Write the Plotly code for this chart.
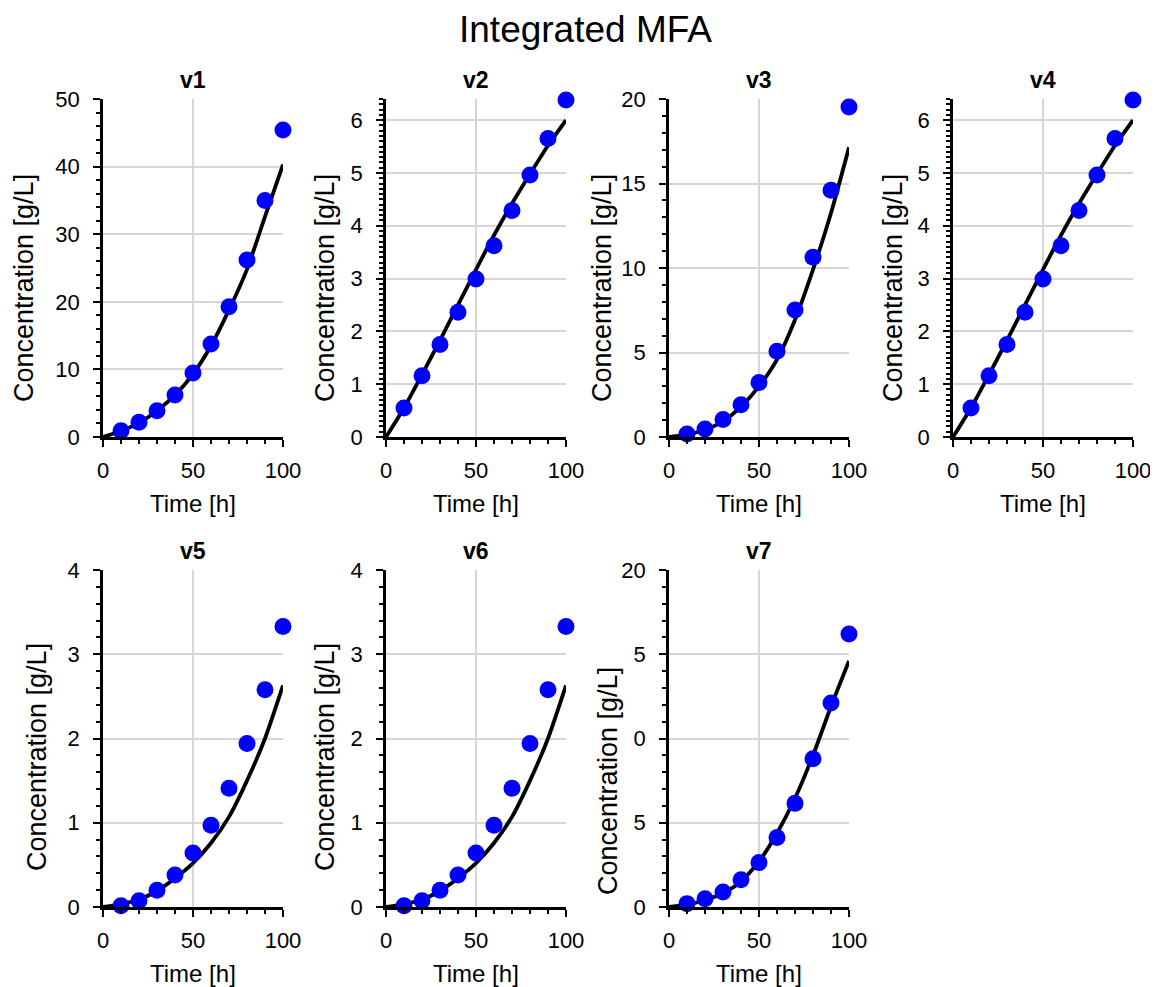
import plotly.graph_objects as go

W, H = 1158, 987
FONT = "Liberation Sans, Arial, Helvetica, sans-serif"
OFF = 8  # page body margin offset

# ---- data ----
names = ["v1", "v2", "v3", "v4", "v5", "v6", "v7"]
time_pts = [10, 20, 30, 40, 50, 60, 70, 80, 90, 100]
time_fit = [0, 10, 20, 30, 40, 50, 60, 70, 80, 90, 100]

meas_v1 = [0.94, 2.17, 3.9, 6.2, 9.47, 13.76, 19.28, 26.2, 35.0, 45.4]
meas_v2 = [0.55, 1.16, 1.75, 2.36, 2.99, 3.62, 4.29, 4.96, 5.65, 6.38]
meas_v3 = [0.18, 0.47, 1.03, 1.91, 3.23, 5.07, 7.51, 10.63, 14.6, 19.53]
meas_v4 = [0.55, 1.16, 1.75, 2.36, 2.99, 3.62, 4.29, 4.96, 5.65, 6.38]
meas_v5 = [0.016, 0.075, 0.2, 0.38, 0.64, 0.97, 1.41, 1.94, 2.58, 3.33]
meas_v6 = [0.016, 0.075, 0.2, 0.38, 0.64, 0.97, 1.41, 1.94, 2.58, 3.33]
meas_v7 = [0.2, 0.49, 0.89, 1.62, 2.64, 4.12, 6.15, 8.8, 12.11, 16.2]

fit_v1 = [0.0, 0.9, 2.1, 3.9, 6.2, 9.3, 13.5, 18.8, 24.8, 32.6, 40.3]
fit_v2 = [0.0, 0.55, 1.18, 1.83, 2.5, 3.17, 3.82, 4.42, 4.98, 5.52, 6.0]
fit_v3 = [0.0, 0.14, 0.43, 0.93, 1.8, 3.0, 4.58, 6.94, 9.9, 13.25, 17.14]
fit_v4 = [0.0, 0.55, 1.18, 1.83, 2.5, 3.17, 3.82, 4.42, 4.98, 5.52, 6.0]
fit_v5 = [0.0, 0.035, 0.09, 0.19, 0.34, 0.52, 0.76, 1.07, 1.5, 2.0, 2.63]
fit_v6 = [0.0, 0.035, 0.09, 0.19, 0.34, 0.52, 0.76, 1.07, 1.5, 2.0, 2.63]
fit_v7 = [0.0, 0.14, 0.4, 0.83, 1.5, 2.7, 4.38, 6.45, 9.0, 11.9, 14.6]

measured = [meas_v1, meas_v2, meas_v3, meas_v4, meas_v5, meas_v6, meas_v7]
fitted = [fit_v1, fit_v2, fit_v3, fit_v4, fit_v5, fit_v6, fit_v7]

y_max = [50, 6.4, 20, 6.4, 4, 4, 20]
y_minor = [2, 0.1, 1, 0.1, 0.2, 0.2, 1]
y_tickvals = [
    [0, 10, 20, 30, 40, 50],
    [0, 1, 2, 3, 4, 5, 6],
    [0, 5, 10, 15, 20],
    [0, 1, 2, 3, 4, 5, 6],
    [0, 1, 2, 3, 4],
    [0, 1, 2, 3, 4],
    [0, 5, 10, 15, 20],
]
y_ticktext = [
    ["0", "10", "20", "30", "40", "50"],
    ["0", "1", "2", "3", "4", "5", "6"],
    ["0", "5", "10", "15", "20"],
    ["0", "1", "2", "3", "4", "5", "6"],
    ["0", "1", "2", "3", "4"],
    ["0", "1", "2", "3", "4"],
    ["0", "5", "0", "5", "20"],
]
x_tickvals = [0, 50, 100]
x_ticktext = ["0", "50", "100"]

title_text = "Integrated MFA"
x_title = "Time [h]"
y_title = "Concentration [g/L]"

# ---- layout geometry (target pixels) ----
col_left = [103, 386, 669, 953, 103, 386, 669]
row_top = [99, 99, 99, 99, 570, 570, 570]
row_bot = [437, 437, 437, 437, 907, 907, 907]
plot_w = 180
ylab_x = [24, 325, 602, 893, 37, 325, 608]
ylab_y = [288, 288, 288, 288, 757, 757, 781]


def px(x):
    return (x - OFF) / W


def py(y):
    return 1 - (y - OFF) / H


fig = go.Figure()
annotations = []

for i, nm in enumerate(names):
    k = "" if i == 0 else str(i + 1)
    xa, ya = "x" + k, "y" + k
    fig.add_trace(go.Scatter(
        x=time_fit, y=fitted[i], mode="lines",
        line=dict(color="black", width=3.8, shape="spline", smoothing=0.6),
        xaxis=xa, yaxis=ya, showlegend=False, cliponaxis=False, hoverinfo="skip"))
    fig.add_trace(go.Scatter(
        x=time_pts, y=measured[i], mode="markers",
        marker=dict(color="#0000ff", size=17, line=dict(width=0)),
        xaxis=xa, yaxis=ya, showlegend=False, cliponaxis=False))

    axis_common = dict(
        showline=True, linecolor="black", linewidth=2.5,
        ticks="outside", ticklen=7, tickwidth=2, tickcolor="black",
        showgrid=True, gridcolor="#d6d6d6", gridwidth=1.5,
        zeroline=False, mirror=False, automargin=False,
        tickfont=dict(family=FONT, size=22, color="black"),
    )
    fig.update_layout(**{
        "xaxis" + k: dict(
            domain=[px(col_left[i]), px(col_left[i] + plot_w)], anchor=ya, range=[0, 100],
            tickmode="array", tickvals=x_tickvals, ticktext=x_ticktext,
            minor=dict(dtick=10, tick0=0, ticks="outside", ticklen=4, tickwidth=2,
                       tickcolor="black", showgrid=False),
            ticklabelstandoff=5,
            **axis_common),
        "yaxis" + k: dict(
            domain=[py(row_bot[i]), py(row_top[i])], anchor=xa, range=[0, y_max[i]],
            tickmode="array", tickvals=y_tickvals[i], ticktext=y_ticktext[i],
            minor=dict(dtick=y_minor[i], tick0=0, ticks="outside", ticklen=4, tickwidth=2,
                       tickcolor="black", showgrid=False),
            ticklabelstandoff=9,
            **axis_common),
    })
    cx = px(col_left[i] + plot_w / 2)
    annotations.append(dict(
        text="<b>%s</b>" % nm, x=cx, y=py(row_top[i] - 19), xref="paper", yref="paper",
        showarrow=False, xanchor="center", yanchor="middle",
        font=dict(family=FONT, size=23, color="black")))
    annotations.append(dict(
        text=x_title, x=cx, y=py(row_bot[i] + 66), xref="paper", yref="paper",
        showarrow=False, xanchor="center", yanchor="middle",
        font=dict(family=FONT, size=24, color="black")))
    annotations.append(dict(
        text=y_title, x=px(ylab_x[i]), y=py(ylab_y[i]), xref="paper", yref="paper",
        showarrow=False, xanchor="center", yanchor="middle", textangle=-90,
        font=dict(family=FONT, size=27, color="black")))

annotations.append(dict(
    text=title_text, x=px(585), y=py(30), xref="paper", yref="paper",
    showarrow=False, xanchor="center", yanchor="middle",
    font=dict(family=FONT, size=37, color="black")))

fig.update_layout(
    width=W, height=H,
    margin=dict(l=0, r=0, t=0, b=0, autoexpand=False),
    paper_bgcolor="white", plot_bgcolor="white",
    annotations=annotations,
    font=dict(family=FONT, color="black"),
    showlegend=False,
)

fig.write_html("out.html")
